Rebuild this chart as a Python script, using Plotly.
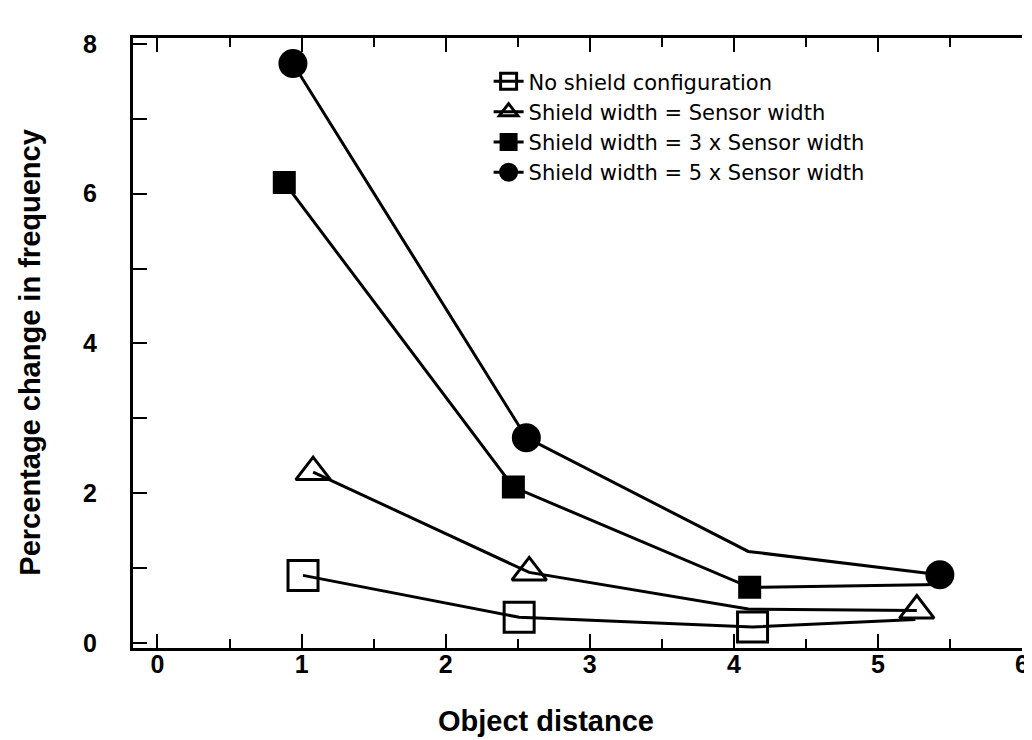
import plotly.graph_objects as go

# Data
series_names = [
    "No shield configuration",
    "Shield width = Sensor width",
    "Shield width = 3 x Sensor width",
    "Shield width = 5 x Sensor width",
]
x_none = [1.01, 2.51, 4.13, 5.26]
y_none = [0.90, 0.34, 0.21, 0.31]
x_s1 = [1.08, 2.58, 4.10, 5.27]
y_s1 = [2.28, 0.94, 0.45, 0.43]
x_s3 = [0.88, 2.47, 4.11, 5.43]
y_s3 = [6.15, 2.08, 0.74, 0.78]
x_s5 = [0.94, 2.56, 4.10, 5.43]
y_s5 = [7.74, 2.74, 1.22, 0.91]
show_marker_none = [1, 1, 1, 0]
show_marker_s1 = [1, 1, 0, 1]
show_marker_s3 = [1, 1, 1, 0]
show_marker_s5 = [1, 1, 0, 1]

x_ticks = [0, 1, 2, 3, 4, 5, 6]
y_ticks = [0, 2, 4, 6, 8]

styles = [
    dict(symbol="square-open", size=30),
    dict(symbol="triangle-up-open", size=30),
    dict(symbol="square", size=20),
    dict(symbol="circle", size=26),
]
xs = [x_none, x_s1, x_s3, x_s5]
ys = [y_none, y_s1, y_s3, y_s5]
shows = [show_marker_none, show_marker_s1, show_marker_s3, show_marker_s5]

fig = go.Figure()
for name, x, y, st, sh in zip(series_names, xs, ys, styles, shows):
    fig.add_trace(go.Scatter(
        x=x, y=y, name=name, mode="lines+markers",
        line=dict(color="#000000", width=3),
        marker=dict(symbol=st["symbol"], size=[st["size"] * s for s in sh],
                    color="#000000", opacity=1,
                    line=dict(color="#000000", width=3)),
    ))

tickfont = dict(family="Liberation Sans, Arial, sans-serif", size=25, color="black", weight="bold")
titlefont = dict(family="Liberation Sans, Arial, sans-serif", size=29, color="black", weight="bold")

fig.update_layout(
    template="none",
    width=1032, height=740,
    margin=dict(l=125, r=18, t=30, b=100),
    paper_bgcolor="white", plot_bgcolor="white",
    showlegend=True,
    legend=dict(x=0.40, y=0.962, xanchor="left", yanchor="top",
                bgcolor="rgba(0,0,0,0)",
                font=dict(family="DejaVu Sans, sans-serif", size=21, color="black"),
                tracegroupgap=0, itemwidth=30),
    xaxis=dict(range=[-0.17, 6.0], tickvals=x_ticks, ticktext=[str(v) for v in x_ticks],
               showgrid=False, zeroline=False, showline=True, linecolor="black", linewidth=3,
               mirror="ticks", ticks="inside", ticklen=14, tickwidth=2, tickcolor="black",
               minor=dict(dtick=0.5, ticks="inside", ticklen=9, tickwidth=2, tickcolor="black"),
               tickfont=tickfont, ticklabelstandoff=-8, ticklabeloverflow="allow"),
    yaxis=dict(range=[-0.07, 8.08], tickvals=y_ticks, ticktext=[str(v) for v in y_ticks],
               showgrid=False, zeroline=False, showline=True, linecolor="black", linewidth=3,
               mirror=False, ticks="inside", ticklen=9, tickwidth=2, tickcolor="black",
               minor=dict(dtick=1, ticks="inside", ticklen=14, tickwidth=2, tickcolor="black"),
               tickfont=tickfont, ticklabelstandoff=28),
    annotations=[
        dict(text="Percentage change in frequency", xref="paper", yref="paper",
             x=-0.116, y=0.484, xanchor="center", yanchor="middle",
             textangle=-90, showarrow=False, font=titlefont),
        dict(text="Object distance", xref="paper", yref="paper",
             x=0.465, y=-0.12, xanchor="center", yanchor="middle",
             showarrow=False, font=titlefont),
    ],
)

fig.write_html("out.html")
